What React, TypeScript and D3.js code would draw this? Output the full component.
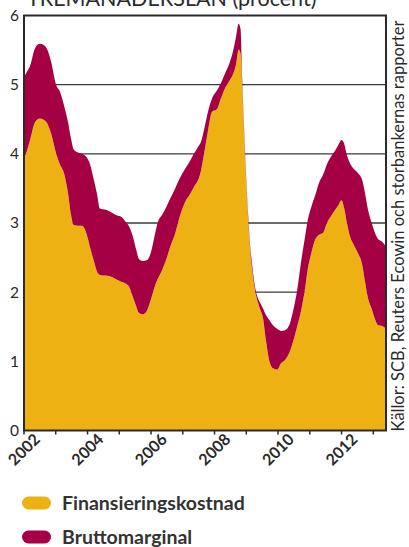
import React from "react";
import * as d3 from "d3";

// Three-month lending rate split into funding cost and gross margin (percent)
const years = [
  2002.0, 2002.06, 2002.19, 2002.35, 2002.5, 2002.63, 2002.72, 2002.85, 2003.01, 2003.13,
  2003.26, 2003.39, 2003.48, 2003.57, 2003.7, 2003.83, 2003.95, 2004.08, 2004.2, 2004.3,
  2004.39, 2004.58, 2004.77, 2004.93, 2005.06, 2005.18, 2005.31, 2005.43, 2005.53, 2005.62,
  2005.75, 2005.87, 2006.0, 2006.13, 2006.22, 2006.35, 2006.47, 2006.6, 2006.76, 2006.91,
  2007.07, 2007.23, 2007.35, 2007.48, 2007.57, 2007.67, 2007.8, 2007.92, 2008.08, 2008.2,
  2008.33, 2008.46, 2008.58, 2008.68, 2008.76, 2008.82, 2008.87, 2008.93, 2008.99, 2009.06,
  2009.12, 2009.18, 2009.24, 2009.31, 2009.37, 2009.43, 2009.53, 2009.62, 2009.72, 2009.84,
  2009.97, 2010.09, 2010.22, 2010.35, 2010.47, 2010.6, 2010.72, 2010.85, 2010.94, 2011.04,
  2011.17, 2011.29, 2011.42, 2011.54, 2011.67, 2011.8, 2011.89, 2012.0, 2012.08, 2012.17,
  2012.27, 2012.39, 2012.52, 2012.65, 2012.74, 2012.83, 2012.95, 2013.06, 2013.15, 2013.28,
  2013.4,
];

const finansieringskostnad = [
  3.95, 4.0, 4.2, 4.46, 4.51, 4.49, 4.45, 4.3, 4.01, 3.85,
  3.72, 3.42, 3.12, 2.97, 2.96, 2.96, 2.87, 2.65, 2.45, 2.3,
  2.25, 2.24, 2.22, 2.18, 2.15, 2.13, 2.08, 1.93, 1.8, 1.7,
  1.68, 1.73, 1.9, 2.1, 2.2, 2.32, 2.46, 2.65, 2.85, 3.1,
  3.3, 3.42, 3.52, 3.62, 3.75, 4.0, 4.35, 4.61, 4.65, 4.8,
  4.95, 5.05, 5.15, 5.3, 5.51, 5.45, 5.0, 4.3, 3.65, 3.05,
  2.62, 2.35, 2.12, 1.95, 1.85, 1.76, 1.62, 1.3, 1.02, 0.9,
  0.88, 0.97, 1.02, 1.12, 1.28, 1.5, 1.72, 2.05, 2.35, 2.55,
  2.76, 2.83, 2.86, 3.0, 3.1, 3.19, 3.25, 3.33, 3.22, 3.0,
  2.8, 2.68, 2.56, 2.4, 2.15, 1.92, 1.76, 1.6, 1.52, 1.51,
  1.47,
];

const bruttomarginal = [
  1.15, 1.16, 1.07, 1.07, 1.08, 1.08, 1.07, 1.04, 0.99, 1.05,
  0.98, 1.03, 1.1, 1.09, 1.06, 1.04, 1.09, 1.2, 1.17, 1.12,
  0.96, 0.95, 0.93, 0.93, 0.94, 0.9, 0.87, 0.87, 0.82, 0.78,
  0.77, 0.73, 0.68, 0.75, 0.82, 0.8, 0.76, 0.7, 0.65, 0.55,
  0.48, 0.48, 0.48, 0.48, 0.42, 0.35, 0.27, 0.19, 0.27, 0.22,
  0.21, 0.25, 0.33, 0.4, 0.37, 0.35, 0.1, 0.08, 0.07, 0.07,
  0.06, 0.07, 0.06, 0.05, 0.06, 0.09, 0.14, 0.37, 0.58, 0.62,
  0.59, 0.47, 0.43, 0.4, 0.44, 0.52, 0.7, 0.75, 0.7, 0.67,
  0.64, 0.75, 0.84, 0.85, 0.86, 0.86, 0.87, 0.87, 0.93, 0.98,
  1.06, 1.1, 1.16, 1.22, 1.28, 1.28, 1.24, 1.25, 1.25, 1.22,
  1.19,
];

const yTicks = [0, 1, 2, 3, 4, 5, 6];
const gridValues = [2, 3, 4, 5];
const yearTicks = [2002, 2003, 2004, 2005, 2006, 2007, 2008, 2009, 2010, 2011, 2012, 2013];
const yearLabels = [2002, 2004, 2006, 2008, 2010, 2012];

const seriesNames = ["Finansieringskostnad", "Bruttomarginal"];
const seriesColors = ["#EEB114", "#A50044"];

const title = "TREMÅNADERSLÅN (procent)";
const source = "Källor: SCB, Reuters Ecowin och storbankernas rapporter";

const W = 409;
const H = 547;
const plot = { left: 24, right: 386, top: 15.5, bottom: 430.5 };
const font = "Lato, 'Open Sans', sans-serif";
const ink = "#2a2a2a";

export default function App() {
  const x = d3.scaleLinear().domain([2002, 2013.4]).range([plot.left, plot.right]);
  const y = d3.scaleLinear().domain([0, 6]).range([plot.bottom, plot.top]);

  const rows = years.map((yr, i) => ({
    year: yr,
    Finansieringskostnad: finansieringskostnad[i],
    Bruttomarginal: bruttomarginal[i],
  }));
  const stacked = d3.stack<any>().keys(seriesNames)(rows);

  const area = d3
    .area<any>()
    .x((d) => x(d.data.year))
    .y0((d) => y(d[0]))
    .y1((d) => y(d[1]))
    .curve(d3.curveMonotoneX);

  return (
    <svg
      width={W}
      height={H}
      viewBox={`0 0 ${W} ${H}`}
      style={{ position: "absolute", left: 0, top: 0, background: "#fff" }}
    >
      <text x={27} y={6} fontFamily={font} fontSize={21.5} fill={ink}>
        {title}
      </text>

      {gridValues.map((v) => (
        <line
          key={v}
          x1={plot.left}
          x2={plot.right}
          y1={y(v)}
          y2={y(v)}
          stroke="#3a3a3a"
          strokeWidth={1.3}
        />
      ))}

      {stacked.map((s, i) => (
        <path key={s.key} d={area(s) as string} fill={seriesColors[i]} />
      ))}

      <rect
        x={plot.left}
        y={plot.top}
        width={plot.right - plot.left}
        height={plot.bottom - plot.top}
        fill="none"
        stroke={ink}
        strokeWidth={2}
      />

      {yTicks.map((v) => (
        <text
          key={v}
          x={19}
          y={y(v)}
          dy="0.35em"
          textAnchor="end"
          fontFamily={font}
          fontSize={15.5}
          fill={ink}
        >
          {v}
        </text>
      ))}

      {yearTicks.map((yr) => (
        <line
          key={yr}
          x1={x(yr)}
          x2={x(yr)}
          y1={plot.bottom}
          y2={plot.bottom + 4}
          stroke={ink}
          strokeWidth={1.5}
        />
      ))}

      {yearLabels.map((yr) => (
        <text
          key={yr}
          transform={`translate(${x(yr)},${plot.bottom + 19}) rotate(-45)`}
          textAnchor="middle"
          dy="0.35em"
          fontFamily={font}
          fontSize={16}
          fontWeight={700}
          fill={ink}
        >
          {yr}
        </text>
      ))}

      <text
        transform={`translate(404,${plot.bottom + 1}) rotate(-90)`}
        fontFamily={font}
        fontSize={16.5}
        fill={ink}
      >
        {source}
      </text>

      {seriesNames.map((name, i) => (
        <g key={name} transform={`translate(22,${503 + i * 34})`}>
          <rect x={0} y={-6.5} width={29} height={13} rx={6.5} fill={seriesColors[i]} />
          <text
            x={40}
            y={0}
            dy="0.36em"
            fontFamily={font}
            fontSize={19.5}
            fontWeight={700}
            fill="#333"
          >
            {name}
          </text>
        </g>
      ))}
    </svg>
  );
}
